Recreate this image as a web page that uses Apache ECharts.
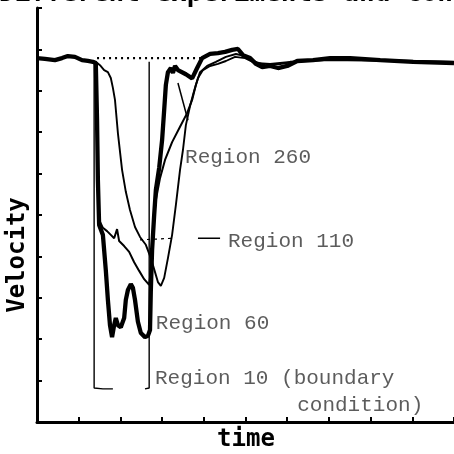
<!DOCTYPE html>
<html>
<head>
<meta charset="utf-8">
<script src="https://cdn.jsdelivr.net/npm/echarts@6/dist/echarts.min.js"></script>
<style>html,body{margin:0;padding:0;background:#fff;}#c{width:454px;height:454px;}</style>
</head>
<body>
<div id="c"></div>
<script>
// ---- data (arbitrary units: time 0-100, velocity 0-100) ----
const region60 = [
  [0,87.9],[1.9,87.7],[4.3,87.4],[6.0,87.9],[7.4,88.4],[9.1,88.2],[10.8,87.4],[12.2,87.2],[13.4,87.0],[14.1,86.7],
  [14.4,72.9],[14.6,58.5],[14.9,47.6],[15.8,45.2],[16.5,36.7],[17.0,29.5],[17.5,23.4],[18.0,20.5],[18.5,23.4],[18.9,25.1],
  [19.4,23.4],[20.1,22.9],[20.9,25.1],[21.3,29.5],[21.8,31.9],[22.5,33.3],[23.0,32.4],[23.5,29.5],[24.2,24.2],[24.9,21.5],
  [25.9,20.5],[26.6,20.8],[27.1,22.2],[27.3,31.9],[27.6,41.5],[28.1,50.0],[28.5,56.0],[29.3,61.4],[30.0,68.1],[30.5,75.4],
  [30.9,81.4],[31.4,84.5],[32.1,85.5],[32.6,84.3],[33.1,86.0],[33.8,85.0],[35.7,84.0],[37.2,83.0],[38.4,85.5],[39.6,87.9],
  [41.5,88.9],[43.4,89.1],[45.1,89.4],[46.8,89.9],[48.2,90.1],[49.4,88.6],[51.1,87.9],[52.5,86.5],[54.0,85.7],[55.9,86.0],
  [57.8,85.5],[60.0,86.0],[62.4,87.2],[66.2,87.4],[70.3,87.9],[75.1,87.9],[82.3,87.4],[90.2,87.0],[100,86.7]
];
const region110 = [
  [14.1,86.7],[14.9,48.8],[15.8,46.9],[16.8,46.1],[17.7,45.2],[18.5,44.4],[19.2,46.6],[19.7,43.7],[20.9,42.5],[22.1,41.1],
  [23.3,38.6],[24.5,36.5],[25.7,34.5],[26.9,33.1],[27.3,36.7],[27.8,46.4],[28.5,53.6],[29.5,58.9],[30.7,63.3],[32.4,67.6],
  [34.3,71.3],[36.0,74.6],[37.2,77.8],[38.1,81.4],[39.1,84.5],[40.8,86.0],[42.9,87.0],[45.3,88.2],[47.7,88.9],[49.9,88.4],
  [52.3,87.0],[54.7,86.2],[58.3,86.5],[63.1,87.2],[70.3,87.7],[82.3,87.4],[100,87.0]
];
const region260 = [
  [14.1,87.0],[15.1,86.2],[16.1,85.0],[17.0,84.5],[17.7,83.1],[18.2,80.7],[18.7,77.8],[19.4,69.8],[20.4,60.9],[21.3,55.6],
  [22.3,51.2],[23.5,47.1],[24.7,44.7],[26.1,42.8],[27.3,39.6],[28.3,36.2],[29.0,33.8],[29.7,32.9],[30.5,34.8],[31.4,39.6],
  [32.4,45.2],[33.3,52.4],[34.3,60.9],[35.0,65.7],[35.7,71.7],[36.7,76.3],[37.6,79.7],[38.6,83.1],[39.8,85.0],[41.5,86.0],
  [43.4,86.5],[45.3,87.2],[47.5,88.2],[49.9,87.9],[52.3,86.7],[55.9,86.5],[60.7,87.0],[70.3,87.4],[87.1,87.2],[100,86.7]
];
const region10 = [
  [13.7,87.0],[13.7,8.2],[15.8,8.0],[18.2,8.0],null,[25.9,8.0],[26.9,8.2],[26.9,87.0]
];
const reference = [[14.4,87.9],[40.3,87.9]];
const leader110 = [[24.7,44.0],[33.1,44.4]];
const leader110b = [[38.6,44.4],[43.9,44.4]];
const leaderX = [[33.8,81.9],[36.2,72.9]];
const labelTexts = ['Region 260','Region 110','Region 60','Region 10 (boundary','condition)'];
const labelX = [35.5, 45.8, 28.5, 28.3, 62.4];
const labelY = [63.8, 43.5, 23.9, 10.6, 4.1];
const xTicks = [0,10,20,30,40,50,60,70,80,90,100];
const yTicks = [0,10,20,30,40,50,60,70,80,90,100];

const chart = echarts.init(document.getElementById('c'), null, {renderer:'canvas'});
const labelFont = {fontFamily:'Liberation Mono', fontSize:21, color:'#333'};
const lineSeries = (data, w, extra) => Object.assign({
  type:'line', data, showSymbol:false, symbol:'none', connectNulls:false,
  lineStyle:{color:'#000', width:w}, silent:true, z:3
}, extra || {});

chart.setOption({
  animation:false,
  backgroundColor:'#fff',
  grid:{left:37, right:0, top:8, bottom:32, containLabel:false},
  xAxis:{type:'value', min:xTicks[0], max:xTicks[xTicks.length-1], interval:10,
    axisLine:{show:true, onZero:false, lineStyle:{color:'#000', width:3}},
    axisTick:{show:true, inside:true, length:5, lineStyle:{color:'#000', width:2}},
    axisLabel:{show:false}, splitLine:{show:false}},
  yAxis:{type:'value', min:yTicks[0], max:yTicks[yTicks.length-1], interval:10,
    axisLine:{show:true, onZero:false, lineStyle:{color:'#000', width:3}},
    axisTick:{show:true, inside:true, length:5, lineStyle:{color:'#000', width:2}},
    axisLabel:{show:false}, splitLine:{show:false}},
  series:[
    lineSeries(reference, 2.2, {lineStyle:{color:'#000', width:2.2, type:[2,4]}, z:2}),
    lineSeries(region10, 1.4),
    lineSeries(region260, 1.9),
    lineSeries(region110, 2),
    lineSeries(region60, 4.3, {z:4}),
    lineSeries(leader110, 1.2, {lineStyle:{color:'#000', width:1.2, type:[3,4]}}),
    lineSeries(leader110b, 1.5),
    lineSeries(leaderX, 1.5),
    {type:'scatter', symbolSize:0, silent:true, z:5,
     data: labelTexts.map((t,i)=>({value:[labelX[i], labelY[i]], name:t})),
     label:{show:true, position:'right', distance:0, formatter:p=>p.name, ...labelFont}}
  ],
  graphic:[
    {type:'text', x:-1, y:-19, silent:true,
     style:{text:'Different experiments and con', font:'bold 26px "DejaVu Sans Mono"', fill:'#000', textVerticalAlign:'top'}},
    {type:'text', x:18, y:255, rotation:Math.PI/2, silent:true,
     style:{text:'Velocity', font:'bold 24px "DejaVu Sans Mono"', fill:'#000', textAlign:'center', textVerticalAlign:'middle'}},
    {type:'text', x:246, y:440, silent:true,
     style:{text:'time', font:'bold 24px "DejaVu Sans Mono"', fill:'#000', textAlign:'center', textVerticalAlign:'middle'}}
  ]
});
</script>
</body>
</html>
